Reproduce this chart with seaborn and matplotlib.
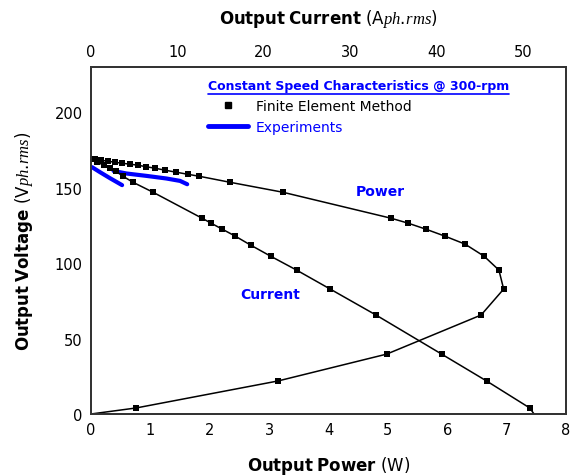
import matplotlib
matplotlib.use("Agg")
import matplotlib.pyplot as plt
import seaborn as sns
from matplotlib.lines import Line2D

# ---- data ----
# FEM: output voltage vs output power
power_W = [0.0, 0.07, 0.17, 0.29, 0.40, 0.52, 0.66, 0.79, 0.93, 1.08, 1.25, 1.43, 1.63, 1.82,
           2.34, 3.23, 5.05, 5.34, 5.64, 5.96, 6.30, 6.62, 6.87, 6.95, 6.57, 4.98, 3.15, 0.76]
power_V = [168.9, 168.9, 168.2, 167.5, 166.9, 166.2, 165.6, 164.9, 163.9, 162.9, 161.6, 160.3, 158.9, 157.6,
           153.6, 147.0, 129.8, 126.5, 122.5, 117.9, 112.6, 104.6, 95.4, 82.8, 65.6, 39.7, 21.9, 4.0]
power_line_end_W = [0.0]
power_line_end_V = [0.0]

# FEM: output voltage vs output current
current_A = [0.0, 0.7, 1.5, 2.2, 2.9, 3.7, 4.86, 7.18, 12.85, 13.9, 15.2, 16.7, 18.5, 20.8,
             23.8, 27.7, 33.0, 40.6, 45.8, 50.8]
current_V = [168.9, 166.9, 164.9, 162.9, 160.9, 157.6, 153.6, 147.0, 129.8, 126.5, 122.5, 117.9, 111.9, 104.6,
             95.4, 82.8, 65.6, 39.7, 21.9, 4.0]
current_line_end_A = [51.3]
current_line_end_V = [0.0]

# Experiments
exp_current_A = [0.12, 1.04, 2.2, 3.6]
exp_current_V = [163.6, 160.3, 156.3, 151.7]
exp_power_W = [0.38, 0.60, 0.94, 1.27, 1.50, 1.62]
exp_power_V = [161.1, 159.4, 157.8, 156.1, 154.5, 152.3]

x_ticks = [0, 1, 2, 3, 4, 5, 6, 7, 8]
top_ticks = [0, 10, 20, 30, 40, 50]
y_ticks = [0, 50, 100, 150, 200]

BLUE = "#0000FF"

sns.set_theme(style="white")
plt.rcParams["font.family"] = ["DejaVu Sans"]
plt.rcParams["mathtext.fontset"] = "custom"
plt.rcParams["mathtext.bf"] = "DejaVu Sans:bold"
plt.rcParams["mathtext.rm"] = "DejaVu Sans"
plt.rcParams["mathtext.it"] = "Liberation Serif:italic"

fig = plt.figure(figsize=(5.76, 4.77), dpi=100)
ax = fig.add_axes([91/576, 1-415/477, 475/576, 347/477])
ax2 = ax.twiny()

MS = 17

# Power curve (bottom axis)
sns.lineplot(x=power_W + power_line_end_W, y=power_V + power_line_end_V, sort=False,
             estimator=None, color="black", linewidth=1.1, ax=ax)
sns.scatterplot(x=power_W, y=power_V, marker="s", color="black", s=MS, linewidth=0, ax=ax)
sns.lineplot(x=exp_power_W, y=exp_power_V, sort=False, estimator=None,
             color=BLUE, linewidth=3.0, ax=ax)

# Current curve (top axis)
sns.lineplot(x=current_A + current_line_end_A, y=current_V + current_line_end_V, sort=False,
             estimator=None, color="black", linewidth=1.1, ax=ax2)
sns.scatterplot(x=current_A, y=current_V, marker="s", color="black", s=MS, linewidth=0, ax=ax2)
sns.lineplot(x=exp_current_A, y=exp_current_V, sort=False, estimator=None,
             color=BLUE, linewidth=3.0, ax=ax2)

ax.set_xlim(0, 8)
ax.set_ylim(0, 230)
ax2.set_xlim(0, 55)
ax.set_xticks(x_ticks)
ax.set_yticks(y_ticks)
ax2.set_xticks(top_ticks)
ax.set_xticklabels([str(t) for t in x_ticks])
ax2.set_xticklabels([str(t) for t in top_ticks])
for a in (ax, ax2):
    a.tick_params(length=0, labelsize=10.5, colors="black", pad=6)
    for s in a.spines.values():
        s.set_color("#333333")
        s.set_linewidth(1.3)
    a.grid(False)

ax.set_xlabel(r"$\bf{Output\ Power}$ (W)", fontsize=12, labelpad=12, color="black")
ax.set_ylabel(r"$\bf{Output\ Voltage}$ (V$\it{ph.\!rms}$)", fontsize=12, labelpad=14, color="black")
ax2.set_xlabel(r"$\bf{Output\ Current}$ (A$\it{ph.\!rms}$)", fontsize=12, labelpad=15, color="black")

ax.text(4.87, 147.7, "Power", color=BLUE, fontsize=10, fontweight="bold", ha="center", va="center")
ax.text(3.01, 79.5, "Current", color=BLUE, fontsize=10, fontweight="bold", ha="center", va="center")

# Legend
handles = [Line2D([], [], marker="s", color="black", linestyle="none", markersize=4.3),
           Line2D([], [], color=BLUE, linewidth=3.5)]
leg = ax.legend(handles, ["Finite Element Method", "Experiments"], loc="upper left",
                bbox_to_anchor=((205-91)/475, (415-97)/347), frameon=False, fontsize=10,
                handlelength=2.9, handletextpad=0.55, labelspacing=0.5, borderaxespad=0,
                borderpad=0.2)
for t, c in zip(leg.get_texts(), ["black", BLUE]):
    t.set_color(c)

title = fig.text(208/576, 1-87/477, "Constant Speed Characteristics @ 300-rpm", color=BLUE,
                 fontsize=9.0, fontweight="bold", ha="left", va="center")
fig.canvas.draw()
bb = title.get_window_extent()
fig.add_artist(Line2D([bb.x0/576, bb.x1/576], [(bb.y0 - 1)/477, (bb.y0 - 1)/477],
                      color=BLUE, linewidth=1.2, transform=fig.transFigure))

fig.savefig("out.png", dpi=100)
